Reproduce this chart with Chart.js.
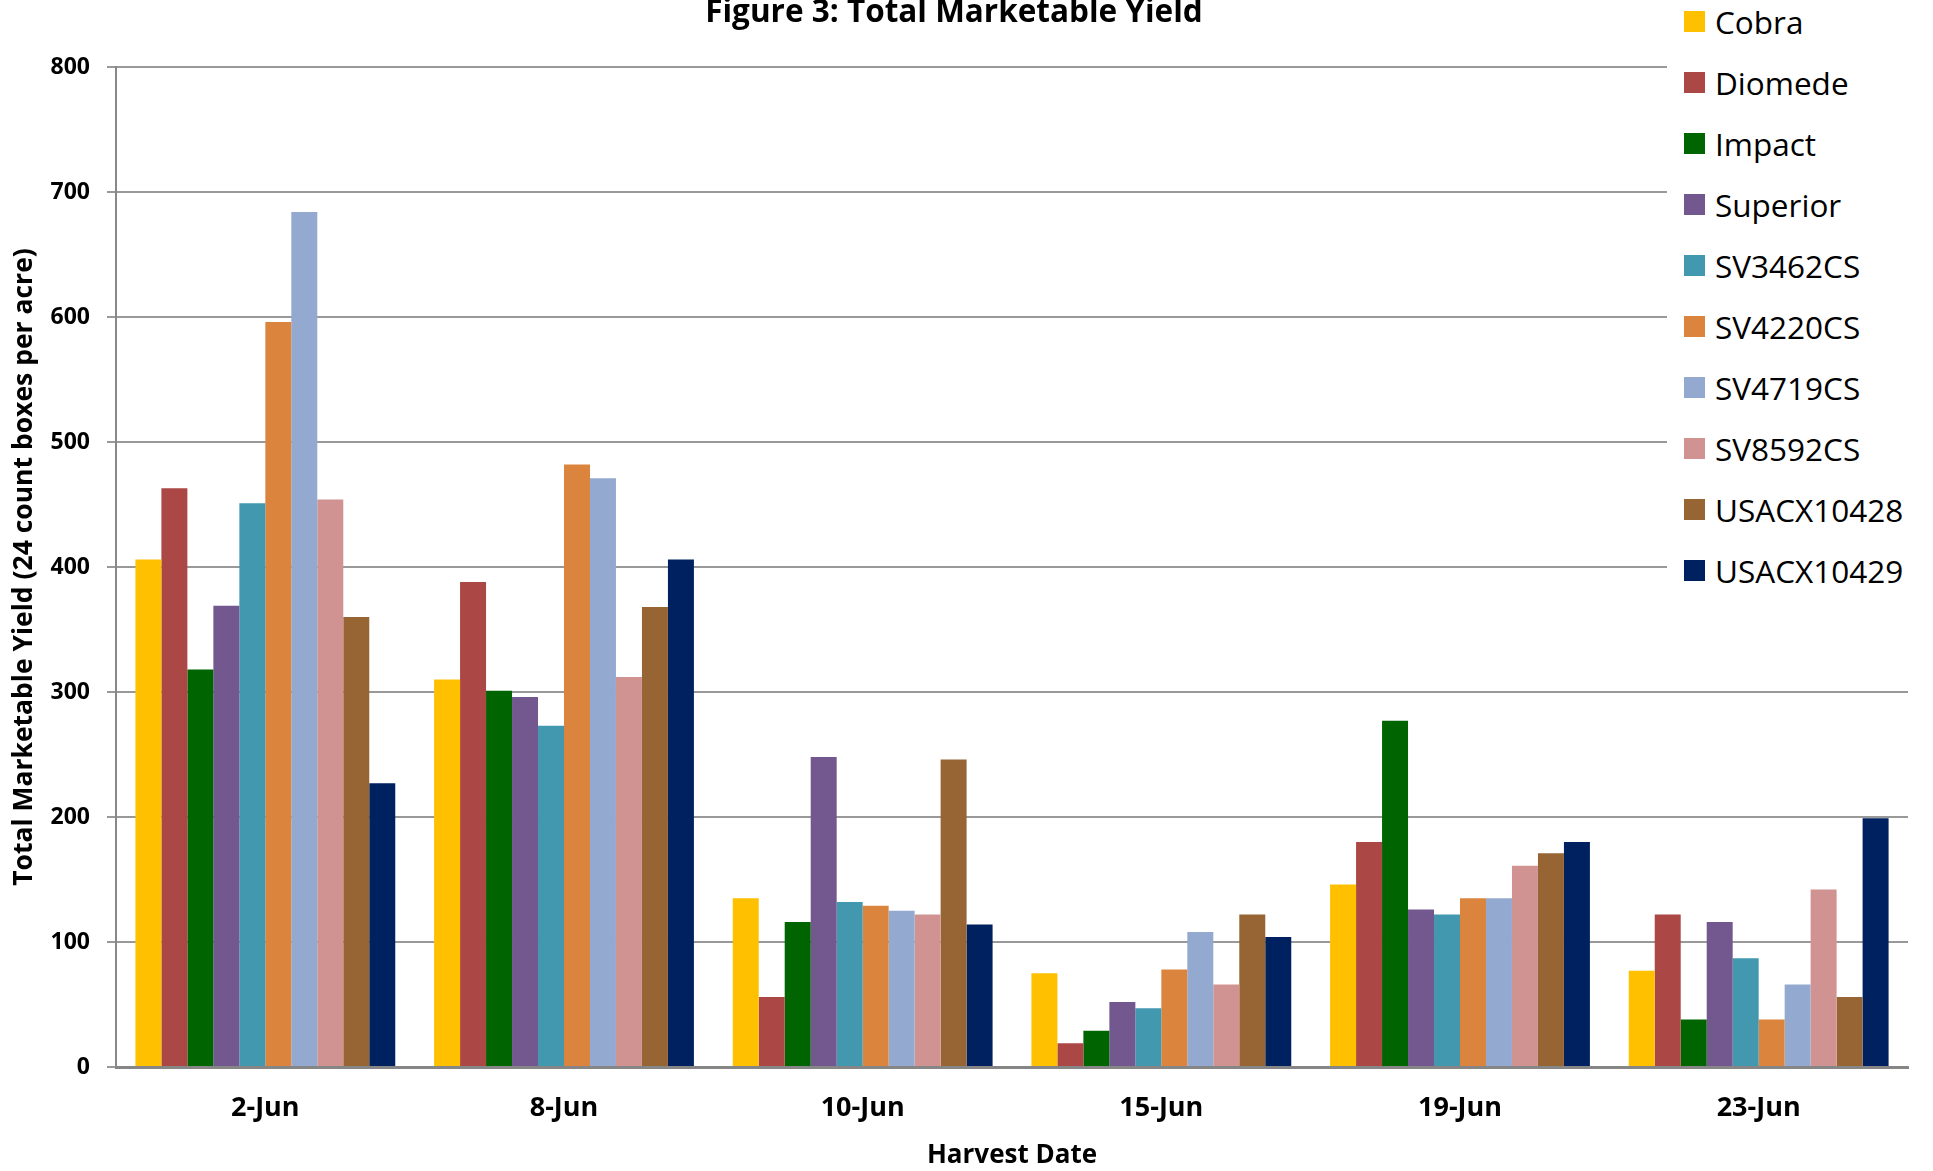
<!DOCTYPE html>
<html>
<head>
<meta charset="utf-8">
<title>Figure 3: Total Marketable Yield</title>
<script src="https://cdn.jsdelivr.net/npm/chart.js@4.4.0/dist/chart.umd.min.js"></script>
<style>
    html, body { margin: 0; padding: 0; background: #fff; }
    #wrap { position: relative; width: 1933px; height: 1171px; overflow: hidden; }
    #legend {
        position: absolute; left: 1667px; top: 0; width: 266px; height: 600px;
        background: #fff; font-family: "Open Sans", sans-serif; font-size: 31.5px; color: #000;
    }
    .item { position: absolute; left: 0; height: 30px; line-height: 30px; white-space: nowrap; }
    .swatch { position: absolute; left: 17px; top: 4px; width: 21px; height: 21px; }
    .label { position: absolute; left: 48px; top: 0; }
</style>
</head>
<body>
<div id="wrap">
    <canvas id="chart" width="1933" height="1171"></canvas>
    <div id="legend"></div>
</div>
<script>
// Harvest dates (categories)
const dates = ['2-Jun', '8-Jun', '10-Jun', '15-Jun', '19-Jun', '23-Jun'];

// Variety names and their bar colours
const varieties = ['Cobra', 'Diomede', 'Impact', 'Superior', 'SV3462CS', 'SV4220CS', 'SV4719CS', 'SV8592CS', 'USACX10428', 'USACX10429'];
const colors = ['#FFC000', '#AB4744', '#006400', '#72588E', '#4198AF', '#DB843D', '#93A9CF', '#D19392', '#976533', '#00215F'];

// Total marketable yield (24 count boxes per acre)
const cobra      = [406, 310, 135, 75, 146, 77];
const diomede    = [463, 388, 56, 19, 180, 122];
const impact     = [318, 301, 116, 29, 277, 38];
const superior   = [369, 296, 248, 52, 126, 116];
const sv3462cs   = [451, 273, 132, 47, 122, 87];
const sv4220cs   = [596, 482, 129, 78, 135, 38];
const sv4719cs   = [684, 471, 125, 108, 135, 66];
const sv8592cs   = [454, 312, 122, 66, 161, 142];
const usacx10428 = [360, 368, 246, 122, 171, 56];
const usacx10429 = [227, 406, 114, 104, 180, 199];

const series = [cobra, diomede, impact, superior, sv3462cs, sv4220cs, sv4719cs, sv8592cs, usacx10428, usacx10429];

// y axis ticks
const yMin = 0;
const yMax = 800;
const yStep = 100;

const datasets = varieties.map((name, i) => ({
    label: name,
    data: series[i],
    backgroundColor: colors[i],
    borderWidth: 0,
    barPercentage: 1.0,
    categoryPercentage: 0.87
}));

new Chart(document.getElementById('chart'), {
    type: 'bar',
    data: { labels: dates, datasets: datasets },
    options: {
        responsive: false,
        animation: false,
        layout: { padding: { left: 0, right: 25, top: 0, bottom: 0 } },
        plugins: {
            legend: { display: false },
            tooltip: { enabled: false },
            title: {
                display: true,
                text: 'Figure 3: Total Marketable Yield',
                color: '#000',
                font: { family: '"Open Sans", sans-serif', size: 31.5, weight: 'bold', lineHeight: '26px' },
                padding: { top: 0, bottom: 41 }
            }
        },
        scales: {
            x: {
                grid: { display: false, drawTicks: false },
                border: { display: true, color: '#868686', width: 3 },
                ticks: {
                    color: '#000',
                    padding: 25,
                    font: { family: '"Open Sans", sans-serif', size: 27, weight: 'bold' }
                },
                title: {
                    display: true,
                    text: 'Harvest Date',
                    color: '#000',
                    font: { family: '"Open Sans", sans-serif', size: 26, weight: 'bold', lineHeight: 1.2 },
                    padding: { top: 15, bottom: 0 }
                },
                afterFit: (scale) => { scale.height = 104; }
            },
            y: {
                min: yMin,
                max: yMax,
                grid: { color: '#999', lineWidth: 2, drawTicks: true, tickLength: 9 },
                border: { display: true, color: '#888', width: 2 },
                ticks: {
                    stepSize: yStep,
                    color: '#000',
                    padding: 17,
                    font: { family: '"Open Sans", sans-serif', size: 23, weight: 'bold' }
                },
                title: {
                    display: true,
                    text: 'Total Marketable Yield (24 count boxes per acre)',
                    color: '#000',
                    font: { family: '"Open Sans", sans-serif', size: 26.5, weight: 'bold', lineHeight: 1.2 },
                    padding: { top: 9, bottom: 10 }
                },
                afterFit: (scale) => { scale.width = 116; }
            }
        }
    }
});

// legend sits over the top right of the plot, as in the original
const legendEl = document.getElementById('legend');
varieties.forEach((name, i) => {
    const item = document.createElement('div');
    item.className = 'item';
    item.style.top = (22 + 61 * i - 15) + 'px';
    item.innerHTML = `<span class="swatch" style="background:${colors[i]}"></span><span class="label">${name}</span>`;
    legendEl.appendChild(item);
});
</script>
</body>
</html>
